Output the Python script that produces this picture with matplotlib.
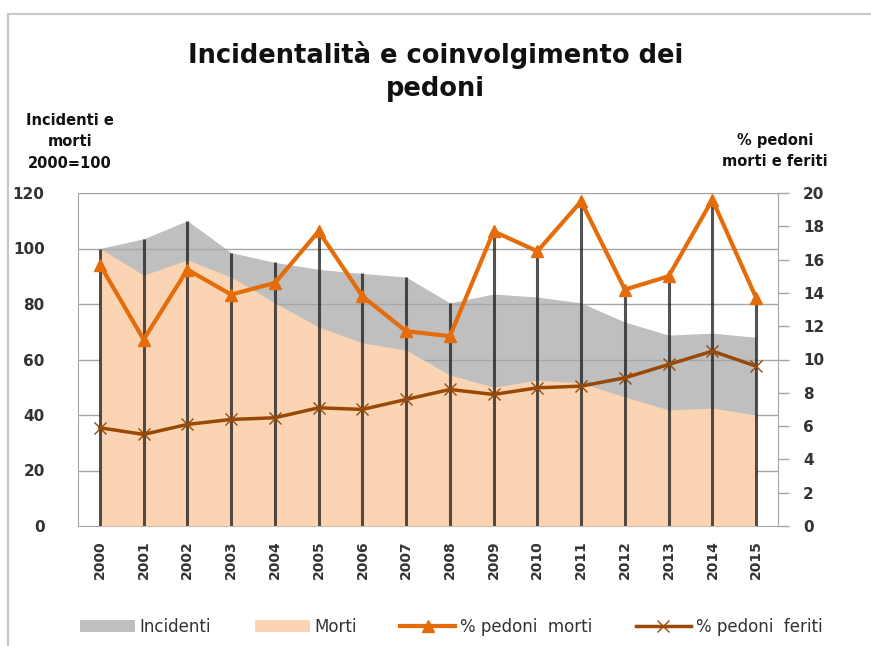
import matplotlib
matplotlib.use('Agg')
import matplotlib.pyplot as plt
from matplotlib.patches import Patch
from matplotlib.lines import Line2D
import numpy as np

# Data
years = list(range(2000, 2016))
incidenti = [100, 103.5, 110, 98.5, 95, 92.5, 91, 89.7, 80.4, 83.6, 82.5, 80.4, 73.5, 68.8, 69.5, 68]
morti = [100, 90.4, 95.9, 89.7, 80.4, 71.7, 66, 63.4, 54.4, 50, 52.6, 51.5, 46.5, 41.8, 42.5, 40]
pct_morti = [15.7, 11.2, 15.4, 13.9, 14.6, 17.7, 13.8, 11.7, 11.4, 17.7, 16.5, 19.5, 14.2, 15.0, 19.6, 13.7]
pct_feriti = [5.9, 5.5, 6.1, 6.4, 6.5, 7.1, 7.0, 7.6, 8.2, 7.9, 8.3, 8.4, 8.9, 9.7, 10.5, 9.6]

gray = '#BFBFBF'
peach = '#FBD4B4'
orange = '#E46C0A'
brown = '#984807'
txt = '#333333'

plt.rcParams['font.family'] = ['DejaVu Sans']

fig = plt.figure(figsize=(8.71, 6.46), dpi=100)
ax = fig.add_axes([78 / 871, 1 - 526 / 646, 700 / 871, 333 / 646])
ax2 = ax.twinx()

x = np.array(years)
ax.fill_between(x, 0, incidenti, color=gray, lw=0, zorder=1)
ax.fill_between(x, 0, morti, color=peach, lw=0, zorder=3)
for v in range(20, 121, 20):
    ax.axhline(v, color='#A6A6A6', lw=1, zorder=2)

# drop lines up to the highest point of any series (right axis scaled to left: 20 -> 120)
scale = 120 / 20
tops = [max(a, b, c * scale, d * scale) for a, b, c, d in zip(incidenti, morti, pct_morti, pct_feriti)]
ax.vlines(x, 0, tops, color='#1a1a1a', lw=2.2, alpha=0.75, zorder=4)

ax.set_xlim(1999.5, 2015.5)
ax.set_ylim(0, 120)
ax.set_yticks(range(0, 121, 20))
ax.set_xticks(years)
ax.set_xticklabels([str(y) for y in years], rotation=90, fontsize=10, fontweight='bold', color=txt)
ax.set_yticklabels([str(v) for v in range(0, 121, 20)], fontsize=11, fontweight='bold', color=txt)
ax.tick_params(axis='y', length=0, pad=24)
ax.tick_params(axis='x', length=0, pad=10)
for s in ['left', 'bottom', 'top']:
    ax.spines[s].set_color('#A6A6A6')
ax.spines['right'].set_visible(False)
ax.set_zorder(1)
ax2.set_zorder(2)

ax2.plot(x, pct_morti, color=orange, lw=3, marker='^', ms=9, mec=orange, mfc=orange, zorder=5)
ax2.plot(x, pct_feriti, color=brown, lw=2.5, marker='x', ms=9, mew=1, mec=brown, zorder=5)
ax2.set_ylim(0, 20)
ax2.set_yticks(range(0, 21, 2))
ax2.set_yticklabels([str(v) for v in range(0, 21, 2)], fontsize=11, fontweight='bold', color=txt)
ax2.tick_params(axis='y', length=8, width=1, color='#A6A6A6', pad=10)
for s in ['left', 'bottom', 'top']:
    ax2.spines[s].set_visible(False)
ax2.spines['right'].set_color('#A6A6A6')

fig.text(0.5, 1 - 55 / 646, 'Incidentalità e coinvolgimento dei', ha='center', va='center',
         fontsize=18.5, fontweight='bold', color='#111111')
fig.text(0.5, 1 - 89 / 646, 'pedoni', ha='center', va='center',
         fontsize=18.5, fontweight='bold', color='#111111')
fig.text(70 / 871, 1 - 142 / 646, 'Incidenti e\nmorti\n2000=100', ha='center', va='center',
         fontsize=10.5, fontweight='bold', color='#111111', linespacing=1.55)
fig.text(775 / 871, 1 - 151 / 646, '% pedoni\nmorti e feriti', ha='center', va='center',
         fontsize=10.5, fontweight='bold', color='#111111', linespacing=1.55)

handles = [
    Patch(facecolor=gray, edgecolor='none', label='Incidenti'),
    Patch(facecolor=peach, edgecolor='none', label='Morti'),
    Line2D([], [], color=orange, lw=3, marker='^', ms=8, label='% pedoni  morti'),
    Line2D([], [], color=brown, lw=2.5, marker='x', ms=8, mew=1, label='% pedoni  feriti'),
]
fig.legend(handles=handles, loc='center', bbox_to_anchor=(0.518, 1 - 627 / 646), ncol=4,
           frameon=False, fontsize=12, handlelength=3.3, handletextpad=0.3, columnspacing=2.6,
           labelcolor=txt)

# outer chart frame
fig.add_artist(Line2D([8 / 871, 8 / 871], [0, 1 - 14 / 646], transform=fig.transFigure, color='#C8C8C8', lw=1.5))
fig.add_artist(Line2D([8 / 871, 1], [1 - 14 / 646, 1 - 14 / 646], transform=fig.transFigure, color='#C8C8C8', lw=1.5))

fig.savefig('out.png', dpi=100)
